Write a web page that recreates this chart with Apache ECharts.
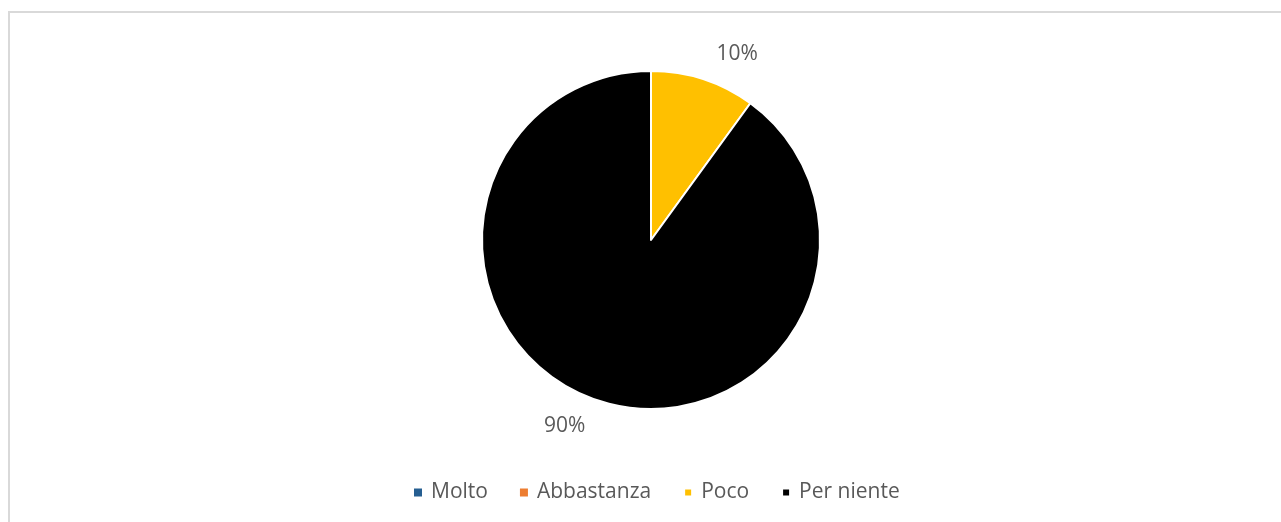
<!DOCTYPE html>
<html>
<head>
<meta charset="utf-8">
<style>
  html, body { margin: 0; padding: 0; background: #ffffff; }
  #chart { width: 1281px; height: 522px; }
</style>
<script src="https://cdn.jsdelivr.net/npm/echarts@6/dist/echarts.min.js"></script>
</head>
<body>
<div id="chart"></div>
<script>
// Answer categories and their shares (percent)
const categories = ['Molto', 'Abbastanza', 'Poco', 'Per niente'];
const values = [0, 0, 10, 90];
const colors = ['#255E91', '#ED7D31', '#FFC000', '#000000'];

const FONT = '"Open Sans", "Noto Sans", sans-serif';
const TEXT_COLOR = '#595959';

const chart = echarts.init(document.getElementById('chart'), null, { renderer: 'canvas' });

const pieData = categories.map((name, i) => {
  const item = { name: name, value: values[i], itemStyle: { color: colors[i] } };
  if (values[i] === 0) {
    item.label = { show: false };
    item.itemStyle.borderWidth = 0;
  }
  return item;
});

chart.setOption({
  backgroundColor: '#ffffff',
  animation: false,
  graphic: [{
    type: 'rect',
    shape: { x: 9, y: 12, width: 1400, height: 700 },
    style: { fill: 'none', stroke: '#d9d9d9', lineWidth: 2 },
    silent: true
  }],
  legend: {
    data: categories,
    top: 477,
    left: 409,
    icon: 'rect',
    itemWidth: 8,
    itemHeight: 8,
    itemGap: 32,
    textStyle: { fontFamily: FONT, fontSize: 21, color: TEXT_COLOR, padding: [0, 0, 0, 4] }
  },
  series: [{
    type: 'pie',
    center: [651, 240],
    radius: [0, 169],
    startAngle: 90,
    clockwise: true,
    minAngle: 0,
    avoidLabelOverlap: false,
    itemStyle: { borderColor: '#ffffff', borderWidth: 2 },
    label: {
      show: true,
      position: 'outside',
      formatter: (p) => p.value + '%',
      fontFamily: FONT,
      fontSize: 21,
      color: TEXT_COLOR
    },
    labelLine: { show: false, length: 27, length2: 0 },
    emphasis: { disabled: true },
    data: pieData
  }]
});
</script>
</body>
</html>
